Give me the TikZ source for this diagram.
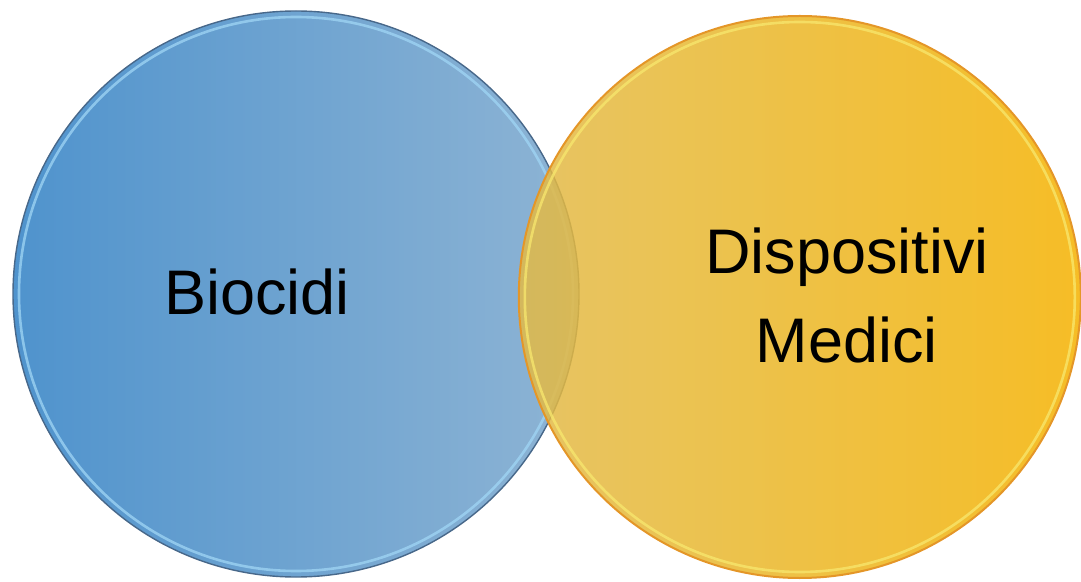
\documentclass[tikz,border=0pt]{standalone}
\usepackage{fontspec}
\setmainfont{Liberation Sans}
\usetikzlibrary{positioning}

\begin{document}
\begin{tikzpicture}[x=0.5pt,y=-0.5pt]
\definecolor{bio left}{RGB}{79,147,205}
\definecolor{bio right}{RGB}{142,180,212}
\definecolor{bio edge}{RGB}{72,104,138}
\definecolor{bio light}{RGB}{160,214,245}
\definecolor{med left}{RGB}{226,186,73}
\definecolor{med right}{RGB}{244,178,0}
\definecolor{med edge}{RGB}{228,150,40}
\definecolor{med light}{RGB}{248,232,110}
\tikzset{
     bubble/.style={circle, inner sep=0pt, draw=none},
     edge line/.style={line width=0.7pt},
     rim line/.style={line width=1.3pt, opacity=0.75},
     caption/.style={font=\fontsize{31.5}{44.5}\selectfont, align=center, inner sep=0pt}}

\useasboundingbox (0,0) rectangle (1081,582);

% The blue circle
\node (biocircle) at (296,294) [bubble, minimum size=283pt, left color=bio left, right color=bio right] {};
\draw [edge line, draw=bio edge] (biocircle.center) circle (141.5pt);
\draw [rim line, draw=bio light] (biocircle.center) circle (138.5pt);

% The yellow circle, over the blue one
\node (medcircle) [bubble, right=-30.5pt of biocircle, yshift=-1.5pt, minimum size=281pt, left color=med left, right color=med right, fill opacity=0.85] {};
\draw [edge line, draw=med edge, line width=1pt] (medcircle.center) circle (140.5pt);
\draw [rim line, draw=med light] (medcircle.center) circle (137.5pt);

% The labels
\node (biolabel) at ([xshift=-19.5pt, yshift=1pt]biocircle) [caption] {Biocidi};
\node (medlabel) at ([xshift=23.5pt, yshift=1pt]medcircle) [caption] {Dispositivi\\Medici};
\end{tikzpicture}
\end{document}
